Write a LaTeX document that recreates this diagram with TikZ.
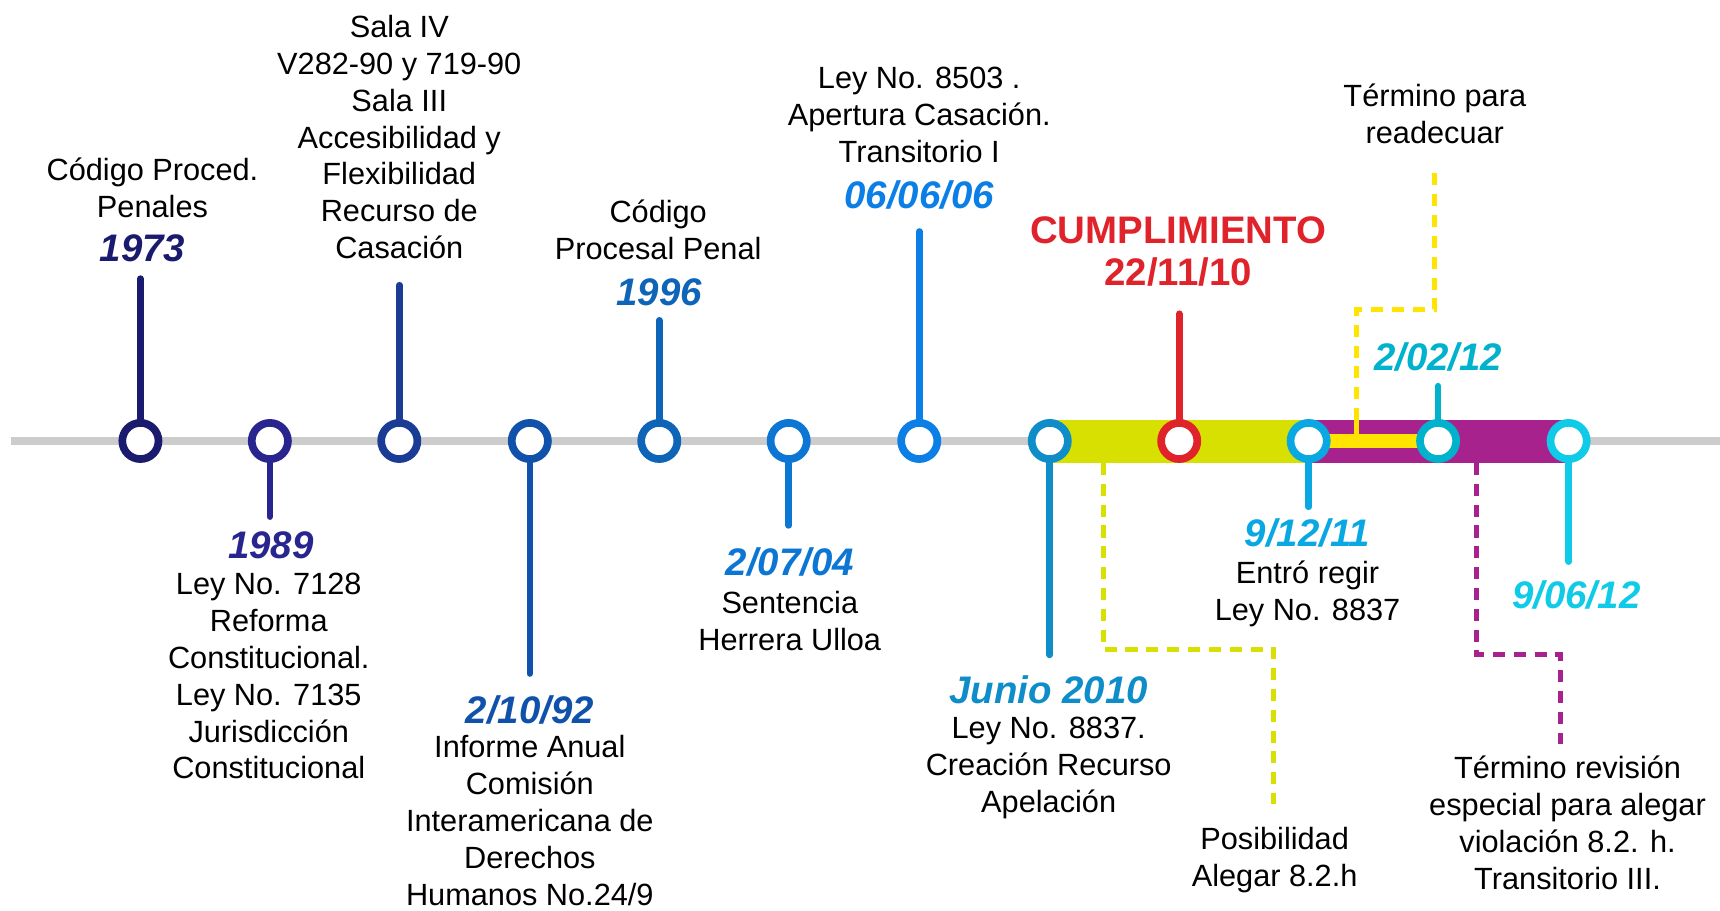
\documentclass[tikz,border=0pt]{standalone}
\usepackage{fontspec}
\setmainfont{Liberation Sans}
\definecolor{cA}{HTML}{1A1A6E}
\definecolor{cB}{HTML}{29258F}
\definecolor{cC}{HTML}{1B3C94}
\definecolor{cD}{HTML}{1051AA}
\definecolor{cE}{HTML}{0E65B8}
\definecolor{cF}{HTML}{0C76D4}
\definecolor{cG}{HTML}{0B7FE6}
\definecolor{cH}{HTML}{0F8DC8}
\definecolor{cI}{HTML}{E0232B}
\definecolor{cJ}{HTML}{0AA8E2}
\definecolor{cK}{HTML}{00B2CC}
\definecolor{cL}{HTML}{10CBE8}
\definecolor{lime}{HTML}{D7E000}
\definecolor{magband}{HTML}{A8228E}
\definecolor{yel}{HTML}{FFE400}
\definecolor{axisgray}{HTML}{CCCCCC}
\begin{document}
\begin{tikzpicture}[x=0.5pt,y=-0.5pt,
  txt/.style={font=\fontsize{14}{16.8}\selectfont, align=center, inner sep=0pt, text=black},
  datelbl/.style={font=\fontsize{17.5}{20}\selectfont\bfseries\itshape, inner sep=0pt},
  redlbl/.style={font=\fontsize{17.5}{20}\selectfont\bfseries, inner sep=0pt, text=cI},
  ring/.style={circle, draw, line width=3.5pt, fill=white, minimum size=16.5pt, inner sep=0pt},
  stemline/.style={line width=3pt, line cap=round},
  dashline/.style={line width=2.25pt, dash pattern=on 5.5pt off 4pt}]
\useasboundingbox (0,0) rectangle (1568,830);
\fill[white] (0,0) rectangle (1568,830);
% axis
\coordinate (axL) at (10,402);
\coordinate (axR) at (1568,402);
\draw[axisgray, line width=3.5pt] (axL) -- (axR);
% bands
\fill[lime] (957,383) rectangle (1193,422);
\fill[magband] (1193,383) rectangle (1430,422);
\fill[yel] (1193,395.5) rectangle (1311,408.5);
% dashed connectors
\coordinate (ya0) at (1237,396);
\coordinate (ya1) at (1237,383);
\coordinate (ya2) at (1237,282);
\coordinate (ya3) at (1308,282);
\coordinate (ya4) at (1308,157);
\draw[yel, line width=2.25pt] (ya0) -- (ya1);
\draw[yel, dashline] (ya1) -- (ya2) -- (ya3) -- (ya4);
\coordinate (yb1) at (1006,422);
\coordinate (yb2) at (1006,592);
\coordinate (yb3) at (1161,592);
\coordinate (yb4) at (1161,733);
\draw[lime, dashline] (yb1) -- (yb2) -- (yb3) -- (yb4);
\coordinate (mb1) at (1346,422);
\coordinate (mb2) at (1346,597);
\coordinate (mb3) at (1423,597);
\coordinate (mb4) at (1423,678);
\draw[magband, dashline] (mb1) -- (mb2) -- (mb3) -- (mb4);
% stem ends
\coordinate (s1) at (128,254);
\coordinate (s2) at (246,471);
\coordinate (s3) at (364,260);
\coordinate (s4) at (483,614);
\coordinate (s5) at (601,292);
\coordinate (s6) at (719,479);
\coordinate (s7) at (838,211);
\coordinate (s8) at (957,597);
\coordinate (s9) at (1075,286);
\coordinate (s10) at (1193,462);
\coordinate (s11) at (1311,352);
\coordinate (s12) at (1430,512);
% rings
\node[ring, draw=cA] (r1) at (128,402) {};
\node[ring, draw=cB] (r2) at (246,402) {};
\node[ring, draw=cC] (r3) at (364,402) {};
\node[ring, draw=cD] (r4) at (483,402) {};
\node[ring, draw=cE] (r5) at (601,402) {};
\node[ring, draw=cF] (r6) at (719,402) {};
\node[ring, draw=cG] (r7) at (838,402) {};
\node[ring, draw=cH] (r8) at (957,402) {};
\node[ring, draw=cI] (r9) at (1075,402) {};
\node[ring, draw=cJ] (r10) at (1193,402) {};
\node[ring, draw=cK] (r11) at (1311,402) {};
\node[ring, draw=cL] (r12) at (1430,402) {};
% stems
\draw[stemline, cA] (r1) -- (s1);
\draw[stemline, cB] (r2) -- (s2);
\draw[stemline, cC] (r3) -- (s3);
\draw[stemline, cD] (r4) -- (s4);
\draw[stemline, cE] (r5) -- (s5);
\draw[stemline, cF] (r6) -- (s6);
\draw[stemline, cG] (r7) -- (s7);
\draw[stemline, cH] (r8) -- (s8);
\draw[stemline, cI] (r9) -- (s9);
\draw[stemline, cJ] (r10) -- (s10);
\draw[stemline, cK] (r11) -- (s11);
\draw[stemline, cL] (r12) -- (s12);
% upper labels
\node[txt] (t1) at (139,171.5) {Código Proced.\\Penales};
\node[datelbl, text=cA] (d1) at (130,226) {1973};
\node[txt] (t3) at (364,125) {Sala IV\\V282-90 y 719-90\\Sala III\\Accesibilidad y\\Flexibilidad\\Recurso de\\Casación};
\node[txt] (t5) at (600,209.5) {Código\\Procesal Penal};
\node[datelbl, text=cE] (d5) at (601,266) {1996};
\node[txt] (t7) at (838,104.75) {Ley No. 8503 .\\Apertura Casación.\\Transitorio I};
\node[datelbl, text=cG] (d7) at (838,178) {06/06/06};
\node[redlbl] (d9a) at (1074,210) {CUMPLIMIENTO};
\node[redlbl] (d9b) at (1074,248) {22/11/10};
\node[txt] (tT) at (1308,104) {Término para\\readecuar};
\node[datelbl, text=cK] (d11) at (1311,325) {2/02/12};
% lower labels
\node[datelbl, text=cB] (d2) at (247,497) {1989};
\node[txt] (t2) at (245,616.5) {Ley No. 7128\\Reforma\\Constitucional.\\Ley No. 7135\\Jurisdicción\\Constitucional};
\node[datelbl, text=cD] (d4) at (483,647) {2/10/92};
\node[txt] (t4) at (483,748) {Informe Anual\\Comisión\\Interamericana de\\Derechos\\Humanos No.24/9};
\node[datelbl, text=cF] (d6) at (720,512) {2/07/04};
\node[txt] (t6) at (720,566) {Sentencia\\Herrera Ulloa};
\node[datelbl, text=cH] (d8) at (956,629) {Junio 2010};
\node[txt] (t8) at (956,700) {Ley No. 8837.\\Creación Recurso\\Apelación};
\node[datelbl, text=cJ] (d10) at (1192,486) {9/12/11};
\node[txt] (t10) at (1192,541) {Entró regir\\Ley No. 8837};
\node[datelbl, text=cL] (d12) at (1437,542) {9/06/12};
\node[txt] (tP) at (1162,784) {Posibilidad\\Alegar 8.2.h};
\node[txt] (tR) at (1429,750) {Término revisión\\especial para alegar\\violación 8.2. h.\\Transitorio III.};
\end{tikzpicture}
\end{document}
